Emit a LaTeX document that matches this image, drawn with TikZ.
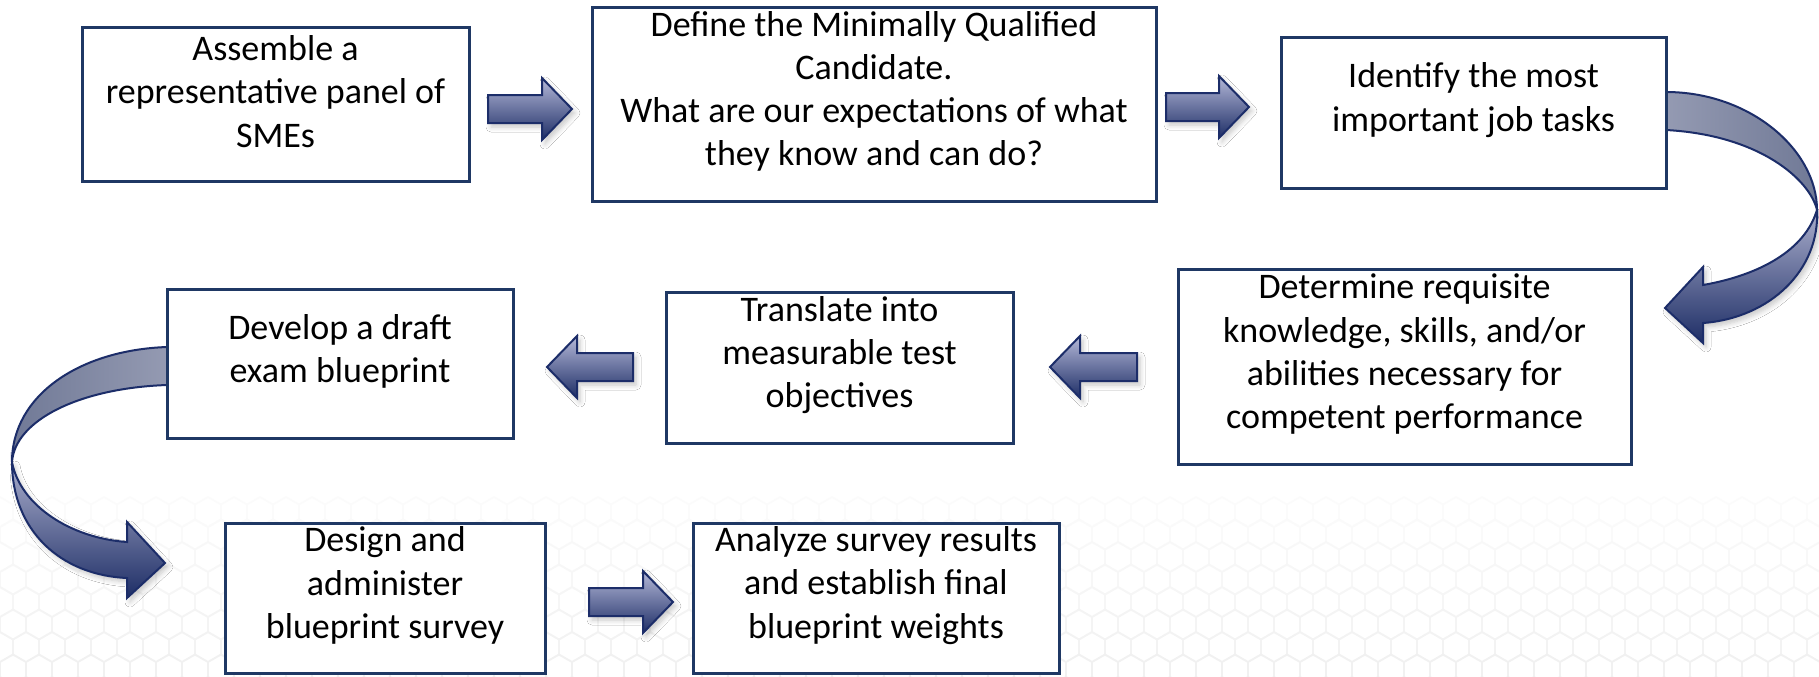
\documentclass[tikz,border=0pt]{standalone}
\usepackage{fontspec}
\setmainfont{Carlito}
\usetikzlibrary{fit,shadows.blur}
\definecolor{boxblue}{RGB}{31,56,100}
\definecolor{arrowblue}{RGB}{28,45,105}
\definecolor{arrlight}{RGB}{180,184,216}
\definecolor{arrdark}{RGB}{30,46,102}
\definecolor{frontlight}{RGB}{170,174,204}
\definecolor{backlight}{RGB}{148,154,178}
\definecolor{backdark}{RGB}{112,121,150}
\newcommand\rarrowpath[3]{(#1,{#3-14}) -- ({#2-30},{#3-14}) -- ({#2-30},{#3-31}) -- (#2,#3) -- ({#2-30},{#3+31}) -- ({#2-30},{#3+14}) -- (#1,{#3+14}) -- cycle}
\newcommand\larrowpath[3]{(#1,{#3-14}) -- ({#2+30},{#3-14}) -- ({#2+30},{#3-31}) -- (#2,#3) -- ({#2+30},{#3+31}) -- ({#2+30},{#3+14}) -- (#1,{#3+14}) -- cycle}
\begin{document}
\begin{tikzpicture}[x=0.5pt,y=-0.5pt,
  box/.style={draw=boxblue, line width=1.5pt, fill=white, inner sep=0pt, align=center,
    font=\fontsize{18}{21.6}\selectfont, text=black},
  softshadow/.style={blur shadow={shadow xshift=1.5pt, shadow yshift=-2pt, shadow blur radius=2.5pt, shadow blur steps=6, shadow opacity=22}},
  blockarrow/.style={softshadow, draw=arrowblue, line width=1pt, top color=arrlight, bottom color=arrdark, line join=miter},
  backface/.style={draw=arrowblue, line width=1pt},
  frontface/.style={softshadow, draw=arrowblue, line width=1pt, top color=frontlight, bottom color=arrdark},
  hexline/.style={line width=0.8pt}]
\useasboundingbox (0,0) rectangle (1819,676);
\fill[white] (0,0) rectangle (1819,676);
% faint hexagon background
\foreach \r in {0,...,8}{
  \pgfmathsetmacro\hexshade{1.5+\r*0.55}
  \foreach \c in {0,...,70}{
    \draw[hexline, draw=black!\hexshade] ({\c*26+mod(\r,2)*13},{512+\r*22.5})
      +(13,-7.5) -- +(0,-15) -- +(-13,-7.5) -- +(-13,7.5) -- +(0,15) -- +(13,7.5) -- cycle;
  }
}
% straight block arrows
\path[blockarrow] \rarrowpath{488}{572}{109};
\path[blockarrow] \rarrowpath{1166}{1249}{107};
\path[blockarrow] \larrowpath{1137}{1050}{367};
\path[blockarrow] \larrowpath{633}{547}{367};
\path[blockarrow] \rarrowpath{589}{673}{602};
% right curved arrow (box 3 to box 4)
\path[frontface]
  (1817,210) .. controls (1820,270) and (1770,318) .. (1703,323)
  -- (1703,343) -- (1665,308) -- (1703,267) -- (1703,285)
  .. controls (1760,275) and (1805,250) .. (1817,210) -- cycle;
\path[backface, left color=backlight, right color=backdark]
  (1666,92) .. controls (1750,92) and (1817,150) .. (1817,210)
  .. controls (1810,180) and (1760,135) .. (1666,130) -- cycle;
% left curved arrow (box 6 to box 7)
\path[frontface]
  (12,462) .. controls (12,530) and (60,575) .. (127,578)
  -- (127,598) -- (165,563) -- (127,522) -- (127,542)
  .. controls (70,538) and (20,505) .. (12,462) -- cycle;
\path[backface, left color=backdark, right color=backlight]
  (167,347) .. controls (80,350) and (12,395) .. (12,462)
  .. controls (15,420) and (80,388) .. (167,385) -- cycle;
% boxes
\node[box, fit={(82,27) (469,181)}] (b1) {Assemble a\\representative panel of\\SMEs};
\node[box, fit={(592,7) (1156,201)}] (b2) {Define the Minimally Qualified\\Candidate.\\What are our expectations of what\\they know and can do?};
\node[box, fit={(1281,37) (1666,188)}] (b3) {Identify the most\\important job tasks};
\node[box, fit={(1178,269) (1631,464)}] (b4) {Determine requisite\\knowledge, skills, and/or\\abilities necessary for\\competent performance};
\node[box, fit={(666,292) (1013,443)}] (b5) {Translate into\\measurable test\\objectives};
\node[box, fit={(167,289) (513,438)}] (b6) {Develop a draft\\exam blueprint};
\node[box, fit={(225,523) (545,673)}] (b7) {Design and\\administer\\blueprint survey};
\node[box, fit={(693,523) (1059,673)}] (b8) {Analyze survey results\\and establish final\\blueprint weights};
\end{tikzpicture}
\end{document}
